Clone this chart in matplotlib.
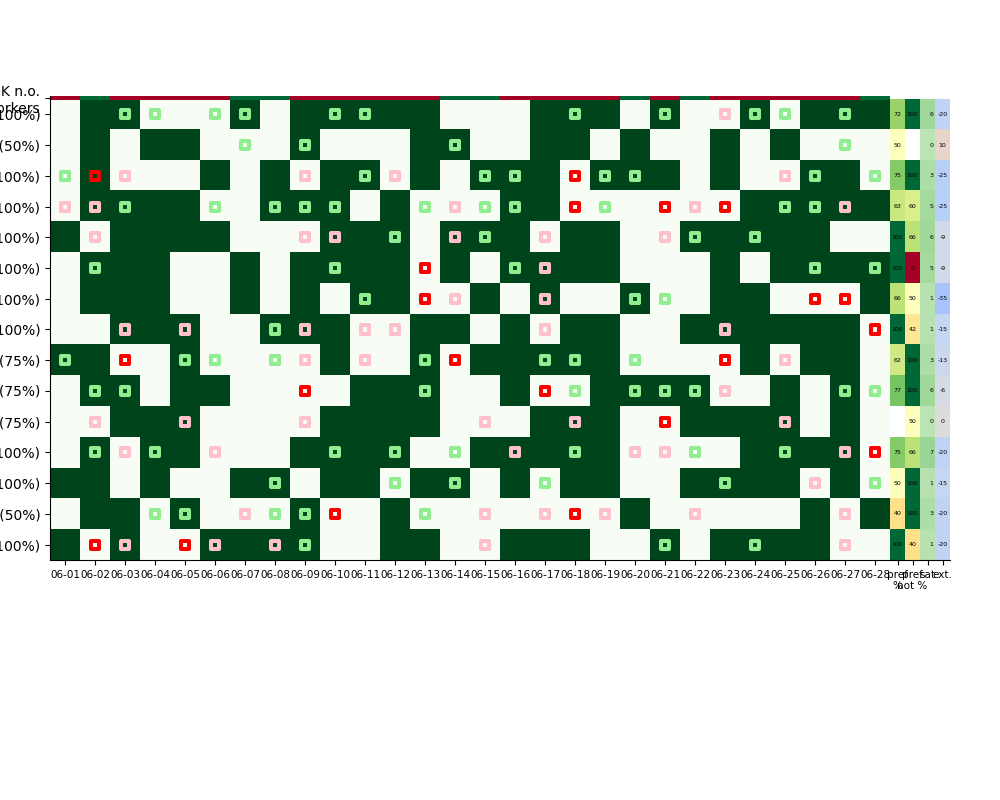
import numpy as np
import matplotlib
matplotlib.use("Agg")
import matplotlib.pyplot as plt

plt.rcParams['font.family'] = ['DejaVu Sans']

dates = ["06-01", "06-02", "06-03", "06-04", "06-05", "06-06", "06-07",
         "06-08", "06-09", "06-10", "06-11", "06-12", "06-13", "06-14",
         "06-15", "06-16", "06-17", "06-18", "06-19", "06-20", "06-21",
         "06-22", "06-23", "06-24", "06-25", "06-26", "06-27", "06-28"]

workers = ["Worker A", "Worker B", "Worker C", "Worker D", "Worker E",
           "Worker F", "Worker G", "Worker H", "Worker I", "Worker J",
           "Worker K", "Worker L", "Worker M", "Worker N", "Worker O"]
work_pct = [100, 50, 100, 100, 100, 100, 100, 100, 75, 75, 75, 100, 100, 50, 100]

ok_workers = [0, 1, 0, 0, 0, 0, 1, 1, 0, 0, 0, 0, 0, 1, 1, 0, 0, 0, 0, 1,
              0, 1, 0, 0, 0, 0, 0, 1]

shifts = [
    [0,1,1,0,0,0,1,0,1,1,1,1,1,0,0,0,1,1,1,0,1,0,0,1,0,1,1,1],
    [0,1,0,1,1,0,0,0,1,0,0,0,1,1,0,0,1,1,0,1,0,0,1,0,1,0,0,0],
    [0,1,0,0,0,1,0,1,0,1,1,0,1,0,1,1,1,0,1,1,1,0,1,0,0,1,1,0],
    [0,1,1,1,1,0,0,1,1,1,0,1,0,0,0,1,1,0,0,0,0,0,0,1,1,1,1,1],
    [1,0,1,1,1,1,0,0,0,1,1,1,0,1,1,1,0,1,1,0,0,1,1,1,1,1,0,0],
    [0,1,1,1,0,0,1,0,1,1,1,1,0,1,0,1,1,1,1,0,0,0,1,0,1,1,1,1],
    [0,1,1,1,0,0,1,0,1,0,1,1,0,0,1,0,1,0,0,1,0,0,1,1,0,0,0,1],
    [0,0,1,1,1,0,0,1,1,1,0,0,1,1,0,1,0,1,1,0,0,1,1,1,1,1,1,0],
    [1,1,0,0,1,0,0,0,0,1,0,0,1,0,1,1,1,1,1,0,0,0,0,1,0,1,1,0],
    [0,1,1,0,1,1,0,0,0,0,1,1,1,0,0,1,0,0,1,1,1,1,0,0,1,0,1,0],
    [0,0,1,1,1,0,0,0,0,1,1,1,1,0,0,0,1,1,1,0,0,1,1,1,1,0,1,0],
    [0,1,0,1,1,0,0,0,1,1,1,1,0,0,1,1,1,1,1,0,0,0,0,1,1,1,1,0],
    [1,1,0,1,0,0,1,1,0,1,1,0,1,1,0,1,0,1,1,0,0,1,1,1,1,0,1,0],
    [0,1,1,0,1,0,0,0,1,0,0,1,0,0,0,0,0,0,0,1,0,0,0,0,0,1,0,1],
    [1,0,1,0,0,1,1,1,1,0,0,1,1,0,0,1,1,1,0,0,1,0,1,1,1,1,0,0],
]

green_marks = [
    [2, 3, 5, 6, 9, 10, 17, 20, 23, 24, 26],
    [6, 8, 13, 26],
    [0, 10, 14, 15, 18, 19, 25, 27],
    [2, 5, 7, 8, 9, 12, 14, 15, 18, 24, 25],
    [11, 14, 21, 23],
    [1, 9, 15, 25, 27],
    [10, 19, 20],
    [7],
    [0, 4, 5, 7, 12, 16, 17, 19],
    [1, 2, 12, 17, 19, 20, 21, 26, 27],
    [],
    [1, 3, 9, 11, 13, 17, 21, 24],
    [7, 11, 13, 16, 22, 27],
    [3, 4, 7, 8, 12],
    [8, 20, 23],
]
pink_marks = [
    [22],
    [],
    [2, 8, 11, 24],
    [0, 1, 13, 21, 26],
    [1, 8, 9, 13, 16, 20],
    [16],
    [13, 16],
    [2, 4, 8, 10, 11, 16, 22],
    [8, 10, 24],
    [22],
    [1, 4, 8, 14, 17, 24],
    [2, 5, 15, 19, 20, 26],
    [25],
    [6, 14, 16, 18, 21, 26],
    [2, 5, 7, 14, 26],
]
red_marks = [
    [],
    [],
    [1, 17],
    [17, 20, 22],
    [],
    [12],
    [12, 25, 26],
    [27],
    [2, 13, 22],
    [8, 16],
    [20],
    [27],
    [],
    [9, 17],
    [1, 4],
]

nan = np.nan
pref_pct = [72, 50, 75, 63, 100, 100, 66, 100, 62, 77, nan, 75, 50, 40, 100]
pref_not_pct = [100, nan, 100, 60, 66, 0, 50, 42, 100, 100, 50, 66, 100, 100, 40]
sat = [6, 0, 3, 5, 6, 5, 1, 1, 3, 6, 0, 7, 1, 3, 1]
ext = [-20, 10, -25, -25, -9, -9, -35, -15, -13, -6, 0, -20, -15, -20, -20]
extra_labels = ["pref\n%", "pref\nnot %", "sat", "ext."]

# ---------------------------------------------------------------
fig = plt.figure(figsize=(10, 8), dpi=100)
W, H = 1000.0, 800.0
left, right_main, right_extra = 50, 890, 950
top, bottom = 99, 560

ax = fig.add_axes([left / W, 1 - bottom / H, (right_main - left) / W, (bottom - top) / H])
ax_x = fig.add_axes([right_main / W, 1 - bottom / H, (right_extra - right_main) / W, (bottom - top) / H])
ax_s = fig.add_axes([left / W, 1 - 99.6 / H, (right_main - left) / W, 3.6 / H])

nrows, ncols = len(workers), len(dates)

# main heatmap
ax.imshow(np.array(shifts), cmap="Greens", vmin=0, vmax=1, aspect="auto",
          interpolation="nearest")
ms = 5.8
for marks, col in [(green_marks, "lightgreen"), (pink_marks, "pink"), (red_marks, "red")]:
    xs, ys = [], []
    for r, cols in enumerate(marks):
        for c in cols:
            xs.append(c)
            ys.append(r)
    ax.scatter(xs, ys, marker="s", s=ms ** 2, facecolors="none",
               edgecolors=col, linewidths=2.9, zorder=3)
ax.set_xlim(-0.5, ncols - 0.5)
ax.set_ylim(nrows - 0.5, -0.5)
ax.set_xticks(range(ncols))
ax.set_xticklabels(dates, fontsize=7.5)
ax.set_yticks(range(nrows))
ax.set_yticklabels([f"{w} ({p}%)" for w, p in zip(workers, work_pct)], fontsize=10)
ax.spines["top"].set_visible(False)
ax.spines["right"].set_visible(False)

# top strip
ax_s.imshow(np.array(ok_workers)[None, :], cmap="RdYlGn", vmin=0, vmax=1,
            aspect="auto", interpolation="nearest")
ax_s.set_xlim(-0.5, ncols - 0.5)
ax_s.set_xticks([])
ax_s.set_yticks([0])
ax_s.set_yticklabels(["OK n.o.\nworkers"], fontsize=10)
for sp in ["top", "right", "bottom"]:
    ax_s.spines[sp].set_visible(False)

# extra columns
extra = [(pref_pct, "RdYlGn", 0, 100), (pref_not_pct, "RdYlGn", 0, 100),
         (sat, "Greens", -18, 45), (ext, "coolwarm", -100, 100)]
for j, (vals, cmap, vmin, vmax) in enumerate(extra):
    arr = np.array(vals, dtype=float)[:, None]
    ax_x.imshow(arr, cmap=cmap, vmin=vmin, vmax=vmax, aspect="auto",
                interpolation="nearest",
                extent=(j - 0.5, j + 0.5, nrows - 0.5, -0.5))
    for r, v in enumerate(vals):
        if np.isnan(v):
            continue
        if j == 2:
            ax_x.text(j + 0.38, r, f"{int(v)}", ha="right", va="center",
                      fontsize=4.5, color="black")
        else:
            ax_x.text(j, r, f"{int(v)}", ha="center", va="center",
                      fontsize=4.5, color="black")
ax_x.set_xlim(-0.5, 3.5)
ax_x.set_ylim(nrows - 0.5, -0.5)
ax_x.set_xticks(range(4))
ax_x.set_xticklabels(extra_labels, fontsize=7.5)
ax_x.set_yticks([])
for sp in ["top", "right", "left"]:
    ax_x.spines[sp].set_visible(False)

fig.savefig("out.png", dpi=100)
